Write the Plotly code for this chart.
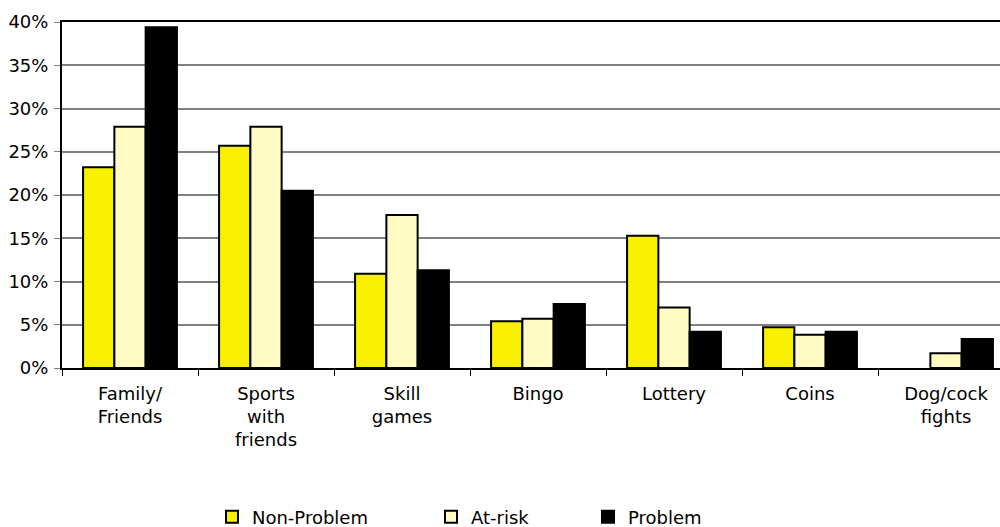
import plotly.graph_objects as go

categories = ["Family/<br>Friends", "Sports<br>with<br>friends", "Skill<br>games", "Bingo",
              "Lottery", "Coins", "Dog/cock<br>fights"]
non_problem = [23.2, 25.7, 10.9, 5.4, 15.3, 4.7, 0.0]
at_risk = [27.9, 27.9, 17.7, 5.7, 7.0, 3.85, 1.7]
problem = [39.4, 20.5, 11.3, 7.4, 4.2, 4.2, 3.35]
y_ticks = [0, 5, 10, 15, 20, 25, 30, 35, 40]
y_tick_labels = [f"{v}%" for v in y_ticks]

series = [
    ("Non-Problem", non_problem, "#F8F000", "legend", 0.1599),
    ("At-risk", at_risk, "#FFFBC2", "legend2", 0.3934),
    ("Problem", problem, "#000000", "legend3", 0.5608),
]

font = dict(family="DejaVu Sans, sans-serif", size=18, color="#000000")

fig = go.Figure()
legends = {}
for name, vals, color, leg, lx in series:
    fig.add_trace(go.Bar(
        x=categories, y=vals, name=name, legend=leg,
        marker=dict(color=color,
                    line=dict(color="#000000", width=[2 if v > 0 else 0 for v in vals])),
    ))
    legends[leg] = dict(orientation="h", x=lx, xanchor="left", y=-0.4306, yanchor="middle",
                        font=font, bgcolor="rgba(0,0,0,0)", itemwidth=30)

fig.update_layout(
    width=1000, height=527,
    margin=dict(l=62, r=0, t=22, b=159, autoexpand=False),
    paper_bgcolor="white", plot_bgcolor="white",
    font=font,
    barmode="group", bargap=0.31, bargroupgap=0,
    showlegend=True,
    **legends,
    xaxis=dict(
        range=[-0.5, 6.397], tickson="boundaries", ticks="outside", ticklen=6,
        tickcolor="#000000", showline=True, linecolor="#000000", linewidth=2,
        mirror=True, showgrid=False, tickfont=font, fixedrange=True,
        automargin=False, ticklabelstandoff=8,
    ),
    yaxis=dict(
        range=[0, 40], tickvals=y_ticks, ticktext=y_tick_labels, ticks="outside",
        ticklen=6, tickcolor="#808080", showline=True, linecolor="#000000", linewidth=2,
        showgrid=True, gridcolor="#808080", gridwidth=1.5, zeroline=False,
        tickfont=font, fixedrange=True, automargin=False, ticklabelstandoff=2,
    ),
)

fig.write_html("out.html", config={"displayModeBar": False},
               post_script="document.body.style.margin='0';document.body.style.overflow='hidden';")
